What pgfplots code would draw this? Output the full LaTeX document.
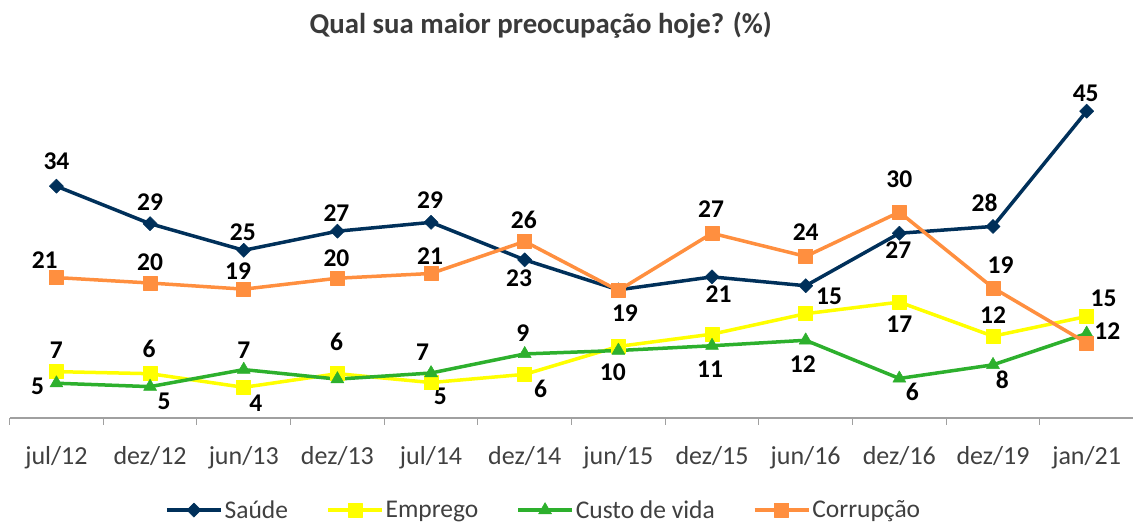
\documentclass[border=0pt]{standalone}
\usepackage{pgfplots}
\pgfplotsset{compat=1.18}
\usepackage{fontspec}
\setmainfont{Carlito}
\definecolor{saude}{HTML}{00305A}
\definecolor{emprego}{HTML}{FFFF00}
\definecolor{custo}{HTML}{2DB02D}
\definecolor{corrup}{HTML}{FF8F3F}
\definecolor{axisc}{HTML}{A0A0A0}
\definecolor{tickc}{HTML}{404040}
\definecolor{titlec}{HTML}{3A3A3A}
\tikzset{lbl/.style={font=\fontsize{25.5}{30}\selectfont\bfseries, text=black, inner sep=0pt}}
\begin{document}
\begin{tikzpicture}[x=1pt,y=1pt]
\useasboundingbox (0,0) rectangle (1133,525);
\node[anchor=base, font=\fontsize{28.8}{34}\selectfont\bfseries, text=titlec, inner sep=0pt] at (540.7,491) {Qual sua maior preocupação hoje? (\%)};
\begin{axis}[
  at={(9.6pt,107pt)}, anchor=south west,
  scale only axis, width=1123.9pt, height=354.5pt,
  xmin=-0.5, xmax=11.5, ymin=0, ymax=52,
  clip=false,
  axis x line=bottom, axis y line=none,
  axis line style={-, draw=axisc, line width=1.2pt},
  xtick={0,1,2,3,4,5,6,7,8,9,10,11},
  xticklabels={jul/12,dez/12,jun/13,dez/13,jul/14,dez/14,jun/15,dez/15,jun/16,dez/16,dez/19,jan/21},
  major tick length=0pt,
  minor xtick={-0.5,0.5,1.5,2.5,3.5,4.5,5.5,6.5,7.5,8.5,9.5,10.5,11.5},
  minor tick length=7pt, tick align=outside,
  minor tick style={draw=axisc, line width=1pt},
  xticklabel style={font=\fontsize{26}{30}\selectfont, text=tickc, anchor=base, yshift=-46pt},
  ytick=\empty,
  legend image code/.code={\draw[#1, mark repeat=2, mark phase=2] plot coordinates {(0pt,0pt) (27pt,0pt) (54pt,0pt)};},
  legend style={at={(0.4752,-0.2597)}, anchor=center, draw=none, fill=none,
    font=\fontsize{25.5}{30}\selectfont, text=tickc,
    nodes={inner sep=2pt},
    /tikz/every odd column/.append style={column sep=0pt},
    /tikz/every even column/.append style={column sep=36pt}},
  legend columns=4,
  every axis plot/.append style={line width=3.5pt, line join=round},
]
\addplot[saude, mark=square*, mark size=5pt, mark options={solid, rotate=45, line width=0.5pt}] coordinates {
(0,34.0) (1,28.5) (2,24.6) (3,27.4) (4,28.7) (5,23.2) (6,18.8) (7,20.7) (8,19.4) (9,27.1) (10,28.1) (11,45.0)};
\addlegendentry{Saúde}
\addplot[emprego, mark=square*, mark size=7pt, mark options={solid, line width=0.5pt}] coordinates {
(0,6.8) (1,6.5) (2,4.5) (3,6.5) (4,5.2) (5,6.4) (6,10.5) (7,12.3) (8,15.3) (9,17.0) (10,12.0) (11,14.9)};
\addlegendentry{Emprego}
\addplot[custo, mark=triangle*, mark size=7.5pt, mark options={solid, line width=0.5pt}] coordinates {
(0,5.1) (1,4.6) (2,7.1) (3,5.7) (4,6.6) (5,9.4) (6,9.9) (7,10.6) (8,11.4) (9,5.8) (10,7.8) (11,12.4)};
\addlegendentry{Custo de vida}
\addplot[corrup, mark=square*, mark size=7pt, mark options={solid, line width=0.5pt}] coordinates {
(0,20.6) (1,19.8) (2,18.9) (3,20.5) (4,21.2) (5,25.9) (6,18.7) (7,27.1) (8,23.7) (9,30.2) (10,19.1) (11,11.0)};
\addlegendentry{Corrupção}
% Saude labels
\node[lbl] at (axis cs:0,37.6) {34};
\node[lbl] at (axis cs:1,31.6) {29};
\node[lbl] at (axis cs:1.99,27.3) {25};
\node[lbl] at (axis cs:2.99,30.0) {27};
\node[lbl] at (axis cs:3.99,31.9) {29};
\node[lbl] at (axis cs:4.94,20.5) {23};
\node[lbl] at (axis cs:6.07,15.4) {19};
\node[lbl] at (axis cs:7.07,18.1) {21};
\node[lbl] at (axis cs:8.25,17.8) {15};
\node[lbl] at (axis cs:8.99,24.6) {27};
\node[lbl] at (axis cs:9.91,31.5) {28};
\node[lbl] at (axis cs:10.99,47.7) {45};
% Corrupcao labels
\node[lbl] at (axis cs:-0.125,23.2) {21};
\node[lbl] at (axis cs:1.0,22.8) {20};
\node[lbl] at (axis cs:1.94,21.6) {19};
\node[lbl] at (axis cs:2.99,23.4) {20};
\node[lbl] at (axis cs:3.99,23.8) {21};
\node[lbl] at (axis cs:4.99,29.1) {26};
\node[lbl] at (axis cs:6.99,30.6) {27};
\node[lbl] at (axis cs:8.0,27.3) {24};
\node[lbl] at (axis cs:9.0,35.0) {30};
\node[lbl] at (axis cs:10.08,22.4) {19};
\node[lbl] at (axis cs:11.22,12.8) {12};
% Emprego labels
\node[lbl] at (axis cs:0,10.0) {7};
\node[lbl] at (axis cs:0.99,10.1) {6};
\node[lbl] at (axis cs:2.13,2.24) {4};
\node[lbl] at (axis cs:2.99,11.1) {6};
\node[lbl] at (axis cs:4.10,3.2) {5};
\node[lbl] at (axis cs:5.17,4.2) {6};
\node[lbl] at (axis cs:5.94,6.7) {10};
\node[lbl] at (axis cs:9.0,13.8) {17};
\node[lbl] at (axis cs:10.0,15.1) {12};
\node[lbl] at (axis cs:11.18,17.5) {15};
% Custo labels
\node[lbl] at (axis cs:-0.2,4.6) {5};
\node[lbl] at (axis cs:1.15,2.4) {5};
\node[lbl] at (axis cs:2.0,9.9) {7};
\node[lbl] at (axis cs:3.91,9.6) {7};
\node[lbl] at (axis cs:4.98,12.4) {9};
\node[lbl] at (axis cs:6.98,7.2) {11};
\node[lbl] at (axis cs:7.97,7.9) {12};
\node[lbl] at (axis cs:9.14,3.9) {6};
\node[lbl] at (axis cs:10.10,5.6) {8};
\end{axis}
\end{tikzpicture}
\end{document}
